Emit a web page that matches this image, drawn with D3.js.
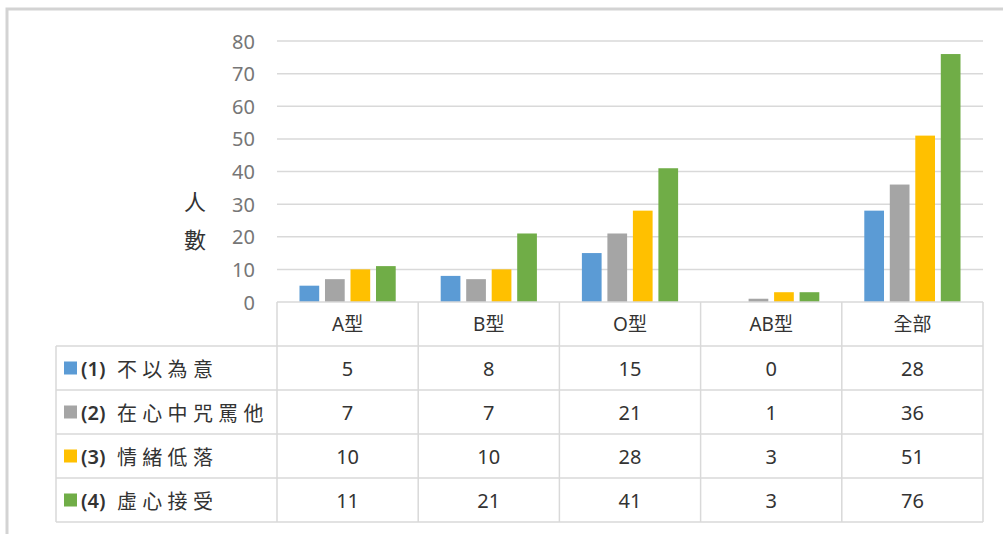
<!DOCTYPE html>
<html>
<head>
<meta charset="utf-8">
<script src="https://cdn.jsdelivr.net/npm/d3@7/dist/d3.min.js"></script>
<style>
  html, body { margin: 0; padding: 0; background: #fff; }
  svg { display: block; }
</style>
</head>
<body>
<svg id="chart" width="1003" height="534"></svg>
<script>
const categories = ["A型", "B型", "O型", "AB型", "全部"];
const seriesIds = ["(1)", "(2)", "(3)", "(4)"];
const seriesNames = ["不以為意", "在心中咒罵他", "情緒低落", "虛心接受"];
const s1 = [5, 8, 15, 0, 28];
const s2 = [7, 7, 21, 1, 36];
const s3 = [10, 10, 28, 3, 51];
const s4 = [11, 21, 41, 3, 76];
const seriesValues = [s1, s2, s3, s4];
const seriesColors = ["#5b9bd5", "#a5a5a5", "#ffc000", "#70ad47"];
const yTicks = [0, 10, 20, 30, 40, 50, 60, 70, 80];
const yTitle = ["人", "數"];

const svg = d3.select("#chart");
const font = "'Noto Sans', 'Noto Sans CJK TC', sans-serif";
const cjkFont = "'Noto Sans CJK TC', 'Noto Sans', sans-serif";
const textColor = "#333333";

// frame
svg.append("path").attr("d", "M7,534 L7,9 L1003,9")
  .attr("fill", "none").attr("stroke", "#d3d3d3").attr("stroke-width", 3);

const x = d3.scaleBand().domain(categories).range([277, 983]).padding(0);
const xs = d3.scaleBand().domain(d3.range(seriesNames.length))
  .range([0, x.bandwidth()]).paddingInner(0.227).paddingOuter(0.882);
const y = d3.scaleLinear().domain([0, 80]).range([302, 41]);

// gridlines
svg.append("g").selectAll("line").data(yTicks.filter(d => d > 0)).join("line")
  .attr("x1", 277).attr("x2", 983)
  .attr("y1", d => y(d)).attr("y2", d => y(d))
  .attr("stroke", "#d9d9d9").attr("stroke-width", 1.5);

// y axis labels
const yAxis = d3.axisLeft(y).tickValues(yTicks).tickSize(0).tickPadding(0);
const gy = svg.append("g").attr("transform", "translate(255,0)").call(yAxis);
gy.select(".domain").remove();
gy.selectAll("text").attr("font-family", font).attr("font-size", 20)
  .attr("fill", "#767676").attr("dy", "0.35em");

// y title
svg.append("g").selectAll("text").data(yTitle).join("text")
  .attr("x", 195).attr("y", (d, i) => 200 + i * 38)
  .attr("text-anchor", "middle").attr("dominant-baseline", "central")
  .attr("font-family", cjkFont).attr("font-size", 22).attr("fill", textColor)
  .text(d => d);

// bars
const groups = svg.append("g").selectAll("g").data(categories).join("g")
  .attr("transform", d => `translate(${x(d)},0)`);
groups.selectAll("rect").data((c, ci) => seriesValues.map((vals, si) => ({ si, v: vals[ci] })))
  .join("rect")
  .attr("x", d => xs(d.si)).attr("width", xs.bandwidth())
  .attr("y", d => y(d.v)).attr("height", d => y(0) - y(d.v))
  .attr("fill", d => seriesColors[d.si]);

// data table
const rows = d3.scaleBand().domain(["header"].concat(seriesNames)).range([302, 522]);
const tbl = svg.append("g");
const lineColor = "#d9d9d9";
tbl.append("line").attr("x1", 277).attr("x2", 983).attr("y1", 302).attr("y2", 302)
  .attr("stroke", lineColor).attr("stroke-width", 1.5);
tbl.selectAll("line.h").data(seriesNames.concat(["end"])).join("line").attr("class", "h")
  .attr("x1", 56).attr("x2", 983)
  .attr("y1", d => d === "end" ? 522 : rows(d)).attr("y2", d => d === "end" ? 522 : rows(d))
  .attr("stroke", lineColor).attr("stroke-width", 1.5);
tbl.append("line").attr("x1", 56).attr("x2", 56).attr("y1", rows(seriesNames[0])).attr("y2", 522)
  .attr("stroke", lineColor).attr("stroke-width", 1.5);
tbl.selectAll("line.v").data(categories.concat(["end"])).join("line").attr("class", "v")
  .attr("x1", d => d === "end" ? 983 : x(d)).attr("x2", d => d === "end" ? 983 : x(d))
  .attr("y1", 302).attr("y2", 522)
  .attr("stroke", lineColor).attr("stroke-width", 1.5);

// header text
tbl.selectAll("text.hd").data(categories).join("text").attr("class", "hd")
  .attr("x", d => x(d) + x.bandwidth() / 2)
  .attr("y", rows("header") + rows.bandwidth() / 2)
  .attr("text-anchor", "middle").attr("dominant-baseline", "central")
  .attr("font-family", font).attr("font-size", 19).attr("fill", textColor)
  .text(d => d);

// legend keys + labels + values
seriesNames.forEach((name, si) => {
  const cy = rows(name) + rows.bandwidth() / 2;
  tbl.append("rect").attr("x", 64).attr("y", cy - 6.5).attr("width", 13).attr("height", 13)
    .attr("fill", seriesColors[si]);
  tbl.append("text").attr("x", 81).attr("y", cy)
    .attr("dominant-baseline", "central")
    .attr("font-family", font).attr("font-size", 20).attr("font-weight", 600).attr("fill", textColor)
    .text(seriesIds[si]);
  tbl.append("text").attr("x", 117).attr("y", cy)
    .attr("dominant-baseline", "central")
    .attr("font-family", cjkFont).attr("font-size", 20).attr("fill", textColor)
    .attr("letter-spacing", 5.3)
    .text(name);
  tbl.selectAll(null).data(categories).join("text")
    .attr("x", d => x(d) + x.bandwidth() / 2).attr("y", cy)
    .attr("text-anchor", "middle").attr("dominant-baseline", "central")
    .attr("font-family", font).attr("font-size", 20).attr("fill", textColor)
    .text((d, ci) => seriesValues[si][ci]);
});
</script>
</body>
</html>
